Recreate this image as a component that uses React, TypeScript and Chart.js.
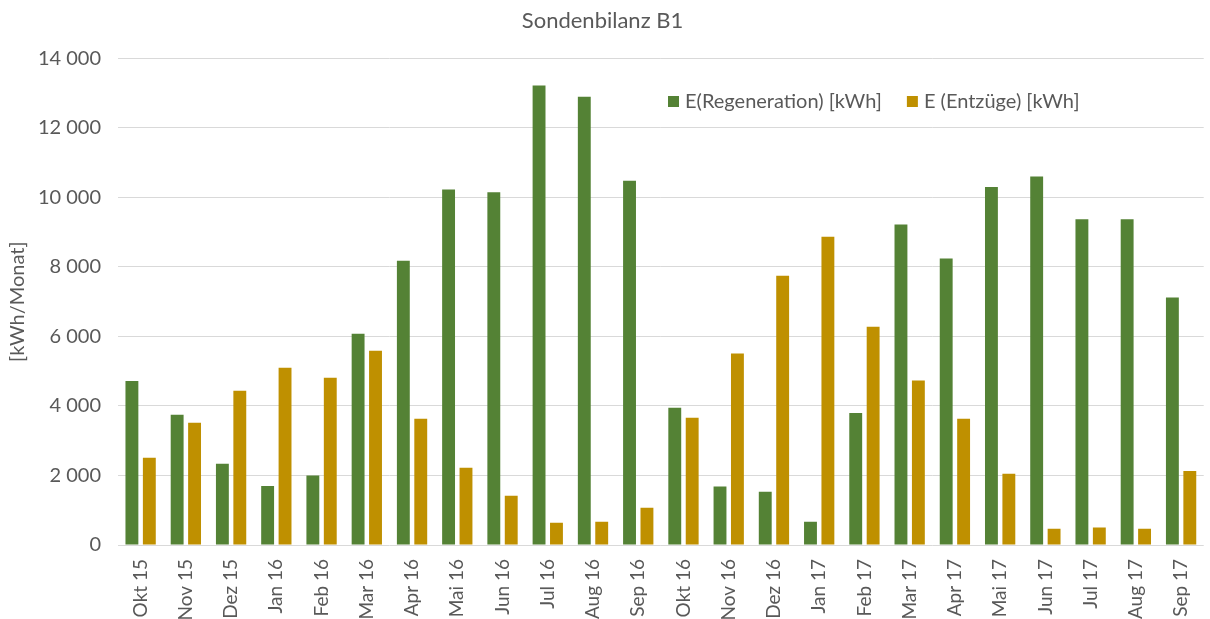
import React, { useEffect, useRef } from "react";
import { Chart, registerables } from "chart.js";

Chart.register(...registerables);

const categories = [
  "Okt 15", "Nov 15", "Dez 15", "Jan 16", "Feb 16", "Mar 16", "Apr 16", "Mai 16",
  "Jun 16", "Jul 16", "Aug 16", "Sep 16", "Okt 16", "Nov 16", "Dez 16", "Jan 17",
  "Feb 17", "Mar 17", "Apr 17", "Mai 17", "Jun 17", "Jul 17", "Aug 17", "Sep 17",
];

const regeneration = [
  4720, 3750, 2340, 1700, 2000, 6080, 8180, 10230, 10150, 13220, 12900, 10480,
  3950, 1680, 1530, 670, 3800, 9220, 8240, 10300, 10600, 9370, 9370, 7120,
];

const entzuege = [
  2510, 3520, 4440, 5100, 4810, 5590, 3630, 2220, 1420, 640, 670, 1070,
  3660, 5510, 7750, 8870, 6280, 4730, 3630, 2050, 470, 500, 470, 2130,
];

const seriesNames = ["E(Regeneration) [kWh]", "E (Entzüge) [kWh]"];
const seriesColors = ["#548235", "#BF9000"];
const chartTitle = "Sondenbilanz B1";
const yTitle = "[kWh/Monat]";

const FONT = "Lato, 'Open Sans', sans-serif";
const TEXT = "#595959";

const formatThousands = (v: number) =>
  String(Math.round(v)).replace(/\B(?=(\d{3})+(?!\d))/g, " ");

const legendPlugin = {
  id: "innerLegend",
  afterDraw(chart: any) {
    const ctx = chart.ctx;
    const ds = chart.data.datasets;
    ctx.save();
    ctx.font = `20px ${FONT}`;
    ctx.textBaseline = "middle";
    ctx.textAlign = "left";
    let x = 668;
    const y = 102;
    ds.forEach((d: any, i: number) => {
      ctx.fillStyle = d.backgroundColor;
      ctx.fillRect(x, y - 6, 11, 11);
      ctx.fillStyle = TEXT;
      ctx.fillText(d.label, x + 17, y);
      x += 17 + ctx.measureText(d.label).width + 25;
    });
    ctx.restore();
  },
};

export default function App() {
  const canvasRef = useRef<HTMLCanvasElement | null>(null);

  useEffect(() => {
    const canvas = canvasRef.current;
    if (!canvas) return;
    const chart = new Chart(canvas, {
      type: "bar",
      data: {
        labels: categories,
        datasets: [
          { label: seriesNames[0], data: regeneration, backgroundColor: seriesColors[0] },
          { label: seriesNames[1], data: entzuege, backgroundColor: seriesColors[1] },
        ],
      },
      options: {
        responsive: false,
        animation: false,
        devicePixelRatio: 1,
        layout: { padding: { left: 0, right: 5, top: 0, bottom: 0 } },
        datasets: {
          bar: { categoryPercentage: 0.77, barPercentage: 0.74 },
        },
        plugins: {
          legend: { display: false },
          tooltip: { enabled: false },
          title: {
            display: true,
            text: chartTitle,
            color: TEXT,
            font: { family: FONT, size: 22, weight: "normal" },
            padding: { top: 8, bottom: 24 },
          },
        },
        scales: {
          x: {
            grid: { display: false },
            border: { display: false },
            ticks: {
              color: TEXT,
              font: { family: FONT, size: 19 },
              minRotation: 90,
              maxRotation: 90,
              autoSkip: false,
              padding: 6,
            },
            afterFit(scale: any) {
              scale.height = 74;
            },
          },
          y: {
            min: 0,
            max: 14000,
            border: { display: false },
            grid: { color: "#D9D9D9", lineWidth: 1, drawTicks: false },
            ticks: {
              stepSize: 2000,
              color: TEXT,
              font: { family: FONT, size: 20 },
              padding: 17,
              callback: (v: any) => formatThousands(Number(v)),
            },
            title: {
              display: true,
              text: yTitle,
              color: TEXT,
              font: { family: FONT, size: 20, weight: "normal" },
              padding: { top: 6, bottom: 0 },
            },
            afterFit(scale: any) {
              scale.width = 118;
            },
          },
        },
      },
      plugins: [legendPlugin],
    });
    return () => chart.destroy();
  }, []);

  return (
    <div style={{ position: "fixed", left: 0, top: 0, width: 1210, height: 619, background: "#fff" }}>
      <canvas ref={canvasRef} width={1210} height={619} style={{ display: "block" }} />
    </div>
  );
}
